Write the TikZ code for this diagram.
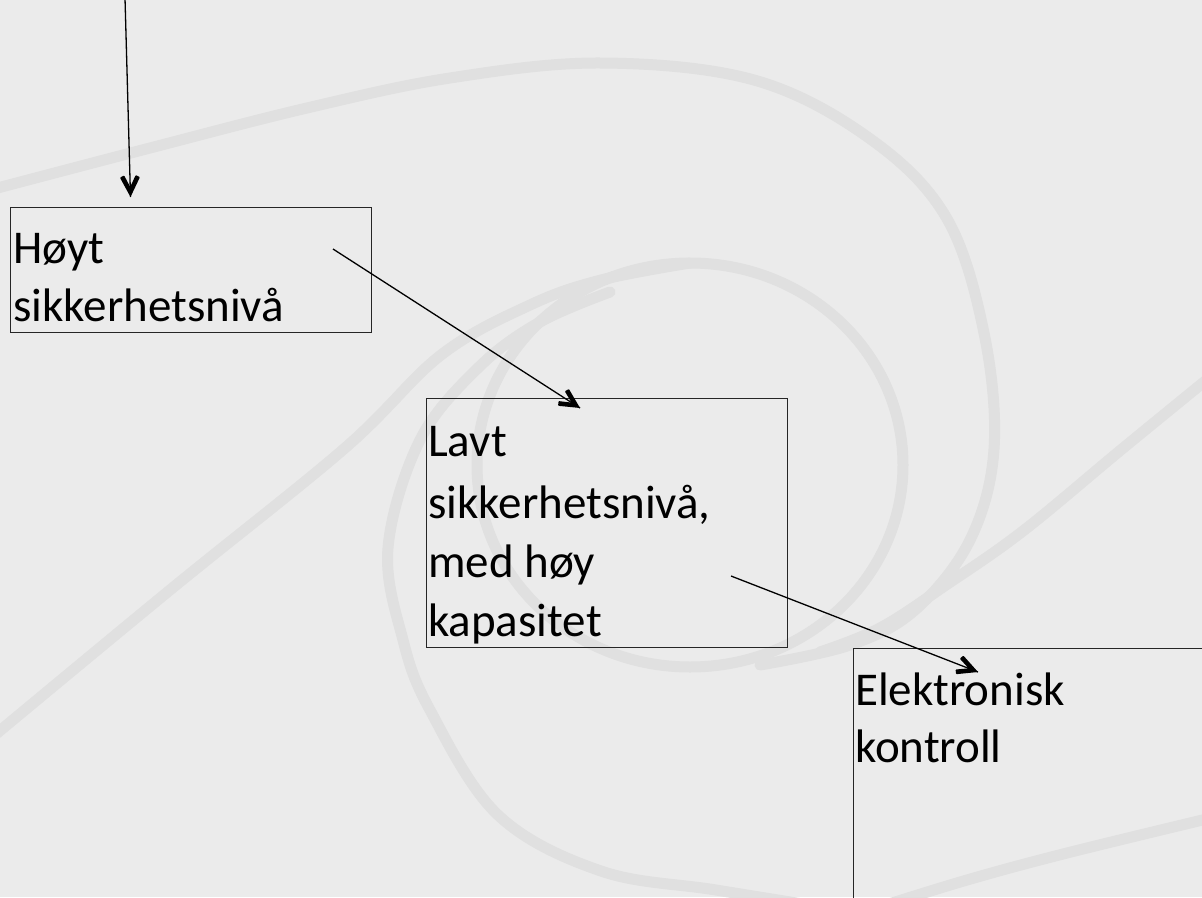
\documentclass[tikz,border=0pt]{standalone}
\usepackage{fontspec}
\setmainfont{Carlito}
\usetikzlibrary{decorations.markings}
\definecolor{bgcol}{HTML}{EBEBEB}
\definecolor{swirl}{HTML}{E0E0E0}
\tikzset{
  box/.style={draw=black!85, line width=1pt, inner sep=0pt, anchor=north west},
  lbl/.style={inner sep=0pt, anchor=base west, font=\fontsize{47}{57}\selectfont},
  conn/.style={line width=1.3pt, postaction={decorate}, decoration={markings,
      mark=at position 1 with {\fill[black, rounded corners=0.8pt]
        (0pt,0pt) -- (-19.6pt,10pt) -- (-21.8pt,5.8pt) -- (-10pt,0pt)
        -- (-21.8pt,-5.8pt) -- (-19.6pt,-10pt) -- cycle;}}},
  swirlline/.style={draw=swirl, line width=11pt, line cap=round},
}
\begin{document}
\begin{tikzpicture}[x=1pt, y=-1pt]
\useasboundingbox (0,0) rectangle (1202,897);
\clip (0,0) rectangle (1202,897);
\fill[bgcol] (0,0) rectangle (1202,897);
% background swirl
\draw[swirlline] (690,465) ellipse [x radius=213pt, y radius=202pt];
\draw[swirlline] plot[smooth, tension=0.6] coordinates {(-10,190) (150,148) (307,108) (450,78) (601,63) (754,80) (869,138) (946,217) (984,333) (994,449) (970,540) (915,610) (850,645) (760,665)};
\draw[swirlline] plot[smooth, tension=0.6] coordinates {(-10,739) (170,590) (345,448) (441,355) (530,305) (601,280) (690,263)};
\draw[swirlline] plot[smooth, tension=0.6] coordinates {(610,292) (540,322) (479,367) (420,440) (388,548) (403,640) (430,710) (498,815) (601,871) (716,890) (840,910)};
\draw[swirlline] plot[smooth, tension=0.6] coordinates {(1215,373) (1122,449) (1023,531) (946,585) (880,628) (820,652)};
\draw[swirlline] plot[smooth, tension=0.6] coordinates {(1215,817) (1067,853) (967,880) (870,910)};
% boxes
\node[box, minimum width=361pt, minimum height=125pt] (b1) at (10,207) {};
\node[box, minimum width=361pt, minimum height=249pt] (b2) at (426,398) {};
\node[box, minimum width=380pt, minimum height=290pt] (b3) at (853,648) {};
% texts
\node[lbl] (t1a) at (13,263) {Høyt};
\node[lbl] (t1b) at (13,321) {sikkerhetsnivå};
\node[lbl] (t2a) at (428,456) {Lavt};
\node[lbl] (t2b) at (428,518) {sikkerhetsnivå,};
\node[lbl] (t2c) at (428,577) {med høy};
\node[lbl] (t2d) at (428,636) {kapasitet};
\node[lbl] (t3a) at (855,705) {Elektronisk};
\node[lbl] (t3b) at (855,762) {kontroll};
% connectors
\coordinate (s0) at (125,-2);
\coordinate (e0) at (130.5,197);
\coordinate (s1) at (333,249);
\coordinate (e1) at (580,408);
\coordinate (s2) at (731,576);
\coordinate (e2) at (978,672);
\draw[conn] (s0) -- (e0);
\draw[conn] (s1) -- (e1);
\draw[conn] (s2) -- (e2);
\end{tikzpicture}
\end{document}
